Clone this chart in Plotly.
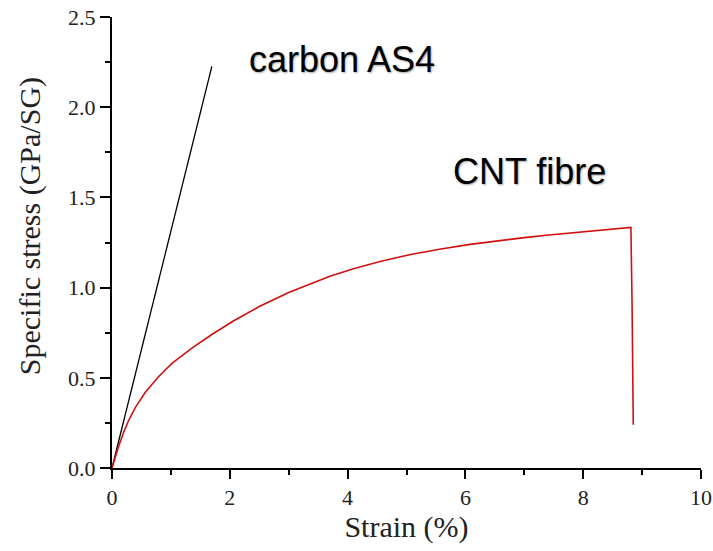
import plotly.graph_objects as go

# Carbon AS4 fibre (linear elastic)
carbon_strain = [0.0, 1.695]
carbon_stress = [0.0, 2.226]

# CNT fibre
cnt_strain = [0.0, 0.056, 0.113, 0.198, 0.28, 0.395, 0.565, 0.79, 1.017, 1.356, 1.695,
              2.06, 2.5, 3.0, 3.35, 3.70, 4.1, 4.55, 5.05, 5.56, 6.05, 6.53, 7.0, 7.37,
              7.8, 8.22, 8.5, 8.67, 8.81, 8.83, 8.84, 8.85]
cnt_stress = [0.0, 0.062, 0.12, 0.198, 0.262, 0.335, 0.42, 0.506, 0.58, 0.665, 0.74,
              0.815, 0.895, 0.973, 1.02, 1.063, 1.105, 1.145, 1.182, 1.213, 1.238, 1.259,
              1.277, 1.29, 1.304, 1.317, 1.325, 1.330, 1.334, 0.9, 0.6, 0.24]

labels = ["carbon AS4", "CNT fibre"]
label_x = [3.9, 7.08]
label_y = [2.263, 1.642]

fig = go.Figure()
fig.add_trace(go.Scatter(x=carbon_strain, y=carbon_stress, mode="lines",
                         line=dict(color="black", width=1.3), showlegend=False))
fig.add_trace(go.Scatter(x=cnt_strain, y=cnt_stress, mode="lines",
                         line=dict(color="#d01010", width=1.6), showlegend=False))

for t, xx, yy in zip(labels, label_x, label_y):
    fig.add_annotation(x=xx, y=yy, text=t, showarrow=False, xref="x", yref="y",
                       font=dict(family="Liberation Sans, Arial", size=36, color="black",
                                 shadow="1px 1px 2px rgba(0,0,0,0.35)"))

serif = "Liberation Serif, Times New Roman"
axis_font = dict(family=serif, size=22, color="#222")
title_font = dict(family=serif, size=30, color="#222")

fig.add_annotation(text="Specific stress (GPa/SG)", textangle=-90, showarrow=False,
                   xref="paper", yref="paper", x=-0.14, y=0.535,
                   xanchor="center", yanchor="middle", font=title_font)

fig.update_layout(
    width=713, height=551,
    margin=dict(l=112, r=12, t=17, b=83),
    paper_bgcolor="white", plot_bgcolor="white",
    font=axis_font,
)
fig.update_xaxes(
    range=[0, 10], tick0=0, dtick=2, ticks="outside", ticklen=9, tickwidth=2,
    tickcolor="black", showline=True, linewidth=2, linecolor="black",
    showgrid=False, zeroline=False, tickfont=axis_font, automargin=False,
    minor=dict(dtick=1, ticks="outside", ticklen=5, tickwidth=2, tickcolor="black", showgrid=False),
    title=dict(text="Strain (%)", font=title_font, standoff=2),
)
fig.update_yaxes(
    range=[0, 2.5], tick0=0, dtick=0.5, tickformat=".1f", ticks="outside", ticklen=10,
    tickwidth=2, tickcolor="black", showline=True, linewidth=2, linecolor="black",
    showgrid=False, zeroline=False, tickfont=axis_font, automargin=False,
    minor=dict(dtick=0.25, ticks="outside", ticklen=5, tickwidth=2, tickcolor="black", showgrid=False),
)

fig.write_html("out.html")
